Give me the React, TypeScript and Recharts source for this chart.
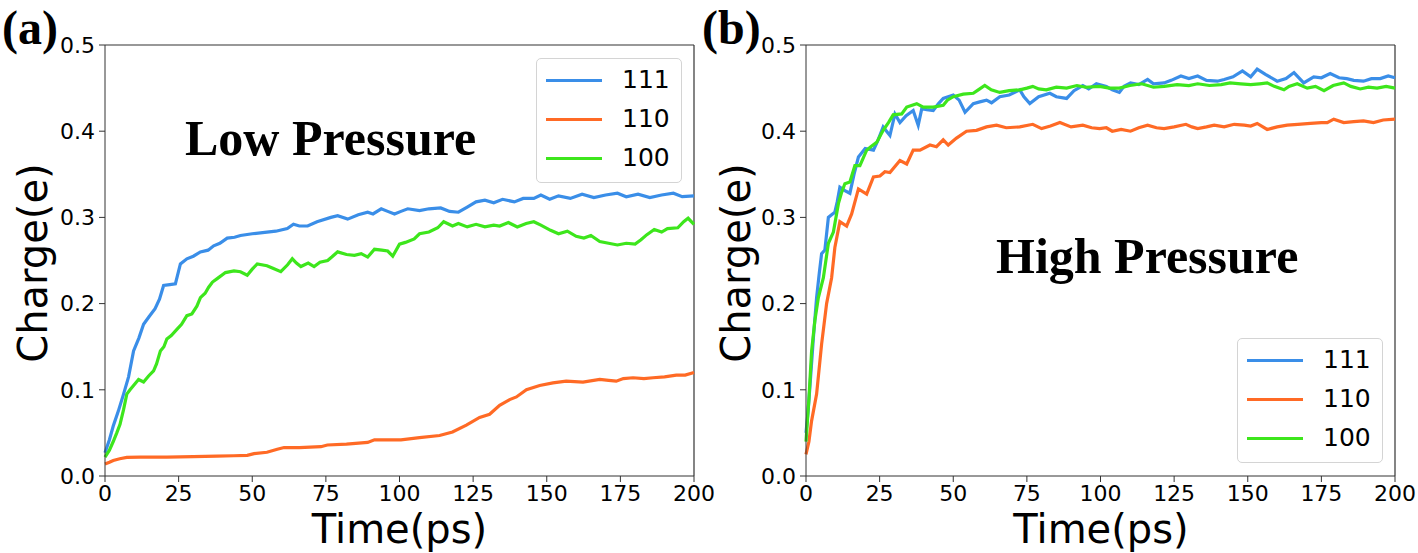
import { LineChart, Line, XAxis, YAxis, ReferenceLine } from 'recharts';

const BLUE = '#3A8EE8';
const ORANGE = '#FF6A25';
const GREEN = '#3DE61C';

const xTicks = [0, 25, 50, 75, 100, 125, 150, 175, 200];
const yTicks = [0, 0.1, 0.2, 0.3, 0.4, 0.5];
const facets = ['111', '110', '100'];

// low pressure, [time ps, charge e]
const low111: [number, number][] = [
  [0, 0.027], [1.5, 0.042], [2.8, 0.058], [4.5, 0.075], [6.3, 0.095], [8, 0.115], [9.7, 0.145], [11.5, 0.16],
  [13.1, 0.176], [15, 0.185], [17, 0.194], [18.5, 0.205], [19.9, 0.221], [22, 0.222], [23.9, 0.223], [25.6, 0.246],
  [27.8, 0.252], [30, 0.255], [32.4, 0.26], [35, 0.262], [36.9, 0.267], [39, 0.27], [41.5, 0.276], [44, 0.277],
  [46, 0.279], [50, 0.281], [55, 0.283], [58, 0.284], [61.9, 0.287], [64, 0.292], [66, 0.29], [68.8, 0.29],
  [72, 0.295], [76.7, 0.3], [79, 0.302], [82.4, 0.298], [86, 0.303], [89.2, 0.306], [91, 0.304], [93.8, 0.31],
  [96, 0.307], [98.3, 0.304], [100.5, 0.307], [102.8, 0.31], [106.8, 0.308], [110, 0.31], [114, 0.311], [117, 0.307],
  [120, 0.306], [123, 0.312], [126, 0.318], [129, 0.32], [132, 0.317], [135, 0.321], [139, 0.318], [142, 0.322],
  [145.6, 0.322], [148, 0.326], [151, 0.321], [154, 0.325], [158, 0.322], [162, 0.327], [166, 0.323], [170, 0.326],
  [174, 0.328], [177, 0.324], [181, 0.327], [185, 0.323], [189, 0.326], [193, 0.328], [196, 0.324], [200, 0.325],
];
const low110: [number, number][] = [
  [0, 0.014], [1.5, 0.016], [2.8, 0.018], [5, 0.02], [7.4, 0.0215], [12, 0.022], [21, 0.022], [30, 0.0225],
  [38, 0.023], [43.75, 0.0235], [48.3, 0.024], [50.6, 0.026], [55, 0.0275], [58.5, 0.031], [60.8, 0.033], [66, 0.033],
  [73.3, 0.034], [75.5, 0.036], [82, 0.037], [89.2, 0.039], [91.5, 0.042], [100.5, 0.042], [106.8, 0.0445], [113.6, 0.047],
  [118, 0.051], [122.7, 0.059], [127.2, 0.068], [130.6, 0.0716], [134, 0.082], [137.4, 0.0886], [139.7, 0.0917], [143.1, 0.1],
  [147.6, 0.105], [152.1, 0.108], [156.6, 0.11], [162.3, 0.109], [168, 0.112], [171, 0.111], [173.6, 0.11], [176, 0.113],
  [179.3, 0.114], [183, 0.113], [186.1, 0.114], [190, 0.115], [194, 0.117], [197, 0.117], [200, 0.12],
];
const low100: [number, number][] = [
  [0, 0.022], [1.5, 0.03], [2.8, 0.04], [4, 0.05], [5.1, 0.06], [6.3, 0.077], [7.4, 0.095], [8.5, 0.1],
  [9.7, 0.105], [11.4, 0.112], [13.1, 0.109], [14.8, 0.116], [16.5, 0.122], [17.5, 0.13], [18.8, 0.145], [20, 0.15],
  [21, 0.159], [22.5, 0.163], [24.4, 0.17], [26, 0.176], [27.8, 0.186], [29.5, 0.188], [31.2, 0.197], [32.4, 0.207],
  [34, 0.212], [35.2, 0.219], [36.5, 0.225], [38.1, 0.229], [40.9, 0.236], [43.8, 0.238], [46, 0.237], [48.3, 0.233],
  [50, 0.24], [51.7, 0.246], [55, 0.244], [57, 0.241], [59.7, 0.237], [62, 0.245], [63.6, 0.252], [65, 0.247],
  [66.5, 0.243], [69, 0.247], [71, 0.243], [73, 0.248], [75.6, 0.25], [77, 0.254], [79, 0.26], [82, 0.257],
  [84.7, 0.256], [87, 0.258], [89.2, 0.254], [91.5, 0.263], [94, 0.262], [96, 0.261], [97.7, 0.255], [100, 0.269],
  [102, 0.271], [105, 0.275], [106.8, 0.281], [110, 0.283], [113, 0.288], [115, 0.295], [118, 0.29], [120, 0.293],
  [123, 0.289], [126, 0.292], [129, 0.289], [132, 0.291], [134, 0.29], [137, 0.294], [140, 0.289], [143, 0.293],
  [145.6, 0.295], [148, 0.291], [151.3, 0.285], [154, 0.281], [157, 0.284], [160, 0.278], [162.6, 0.276], [165, 0.279],
  [168, 0.272], [171, 0.27], [174, 0.268], [177, 0.27], [180, 0.269], [182, 0.274], [184, 0.28], [186.5, 0.286],
  [189, 0.283], [191, 0.287], [194.5, 0.288], [196.5, 0.295], [198, 0.299], [200, 0.292],
];

// high pressure
const high111: [number, number][] = [
  [0, 0.05], [0.7, 0.075], [1.4, 0.107], [2.5, 0.16], [3.6, 0.207], [4.5, 0.235], [5.3, 0.258], [6.4, 0.262],
  [7.6, 0.3], [8.7, 0.303], [9.8, 0.306], [10.6, 0.318], [11.5, 0.335], [13.2, 0.331], [14.9, 0.328], [16.3, 0.35],
  [17.8, 0.37], [20.1, 0.38], [22.9, 0.378], [24.5, 0.39], [26.2, 0.405], [28.5, 0.395], [30.2, 0.42], [31.9, 0.41],
  [34, 0.418], [36.4, 0.424], [38.1, 0.407], [39.3, 0.426], [41, 0.425], [43.2, 0.424], [45, 0.432], [46.6, 0.438],
  [50, 0.442], [52, 0.436], [54, 0.422], [56.8, 0.432], [59, 0.434], [61.3, 0.436], [63, 0.433], [65.8, 0.44],
  [69, 0.442], [72.6, 0.448], [74, 0.44], [76, 0.432], [79, 0.44], [82.8, 0.444], [85, 0.44], [88.5, 0.438],
  [91, 0.447], [94, 0.453], [96, 0.449], [98.6, 0.455], [102, 0.452], [104, 0.448], [106.4, 0.445], [108, 0.452],
  [110.2, 0.456], [113, 0.454], [116, 0.46], [118, 0.455], [121.6, 0.456], [124, 0.459], [127.3, 0.464], [130, 0.461],
  [133, 0.464], [136, 0.459], [139.7, 0.458], [142, 0.46], [145, 0.463], [148.2, 0.47], [151, 0.463], [153.2, 0.472],
  [156, 0.466], [160, 0.458], [163, 0.461], [165.7, 0.468], [169, 0.456], [172.4, 0.463], [175, 0.462], [178, 0.467],
  [181, 0.462], [183.6, 0.461], [186, 0.459], [189.3, 0.458], [192, 0.461], [195, 0.461], [197.7, 0.464], [200, 0.462],
];
const high110: [number, number][] = [
  [0, 0.025], [1, 0.04], [1.9, 0.064], [3.6, 0.095], [5.3, 0.153], [7, 0.2], [8.7, 0.23], [9.8, 0.265],
  [11.5, 0.295], [13.8, 0.29], [15.5, 0.304], [17.8, 0.333], [20.6, 0.327], [22.9, 0.347], [25.1, 0.348], [26.8, 0.353],
  [28.5, 0.352], [31.9, 0.366], [34.2, 0.362], [36.4, 0.378], [38.7, 0.378], [42.1, 0.384], [44.3, 0.382], [46.6, 0.39],
  [48.3, 0.384], [51.1, 0.392], [54.5, 0.4], [57.9, 0.401], [61.3, 0.405], [64.7, 0.407], [68, 0.404], [72.6, 0.405],
  [77, 0.408], [80, 0.403], [83, 0.406], [86.2, 0.41], [90, 0.405], [94, 0.407], [97, 0.404], [99.7, 0.403],
  [102, 0.404], [104, 0.4], [107, 0.402], [110.2, 0.4], [113, 0.404], [116, 0.407], [119, 0.404], [121.6, 0.403],
  [125, 0.405], [129, 0.408], [131, 0.405], [133, 0.403], [136, 0.405], [138.6, 0.407], [142, 0.405], [145.4, 0.408],
  [148.8, 0.407], [151, 0.406], [153.2, 0.409], [156.6, 0.402], [160, 0.405], [163.4, 0.407], [167, 0.408], [171.3, 0.409],
  [175, 0.41], [177, 0.41], [179.2, 0.414], [182.6, 0.41], [186, 0.411], [189.3, 0.412], [192.7, 0.41], [196, 0.413],
  [200, 0.414],
];
const high100: [number, number][] = [
  [0, 0.04], [1, 0.09], [1.9, 0.145], [3, 0.18], [4.2, 0.207], [5.9, 0.23], [7.6, 0.27], [9.3, 0.283],
  [11, 0.316], [12, 0.328], [13.2, 0.339], [14.9, 0.341], [16.6, 0.36], [18.3, 0.36], [20.6, 0.378], [22, 0.382],
  [24, 0.387], [26.2, 0.401], [28, 0.41], [29.6, 0.419], [32.5, 0.42], [34.2, 0.428], [37.6, 0.432], [39.8, 0.428],
  [43.2, 0.428], [46.6, 0.43], [48, 0.436], [50, 0.44], [53.4, 0.443], [56.8, 0.444], [58.5, 0.448], [60.7, 0.453],
  [62.9, 0.448], [65.8, 0.445], [69, 0.447], [72.6, 0.448], [75, 0.45], [77, 0.452], [79, 0.449], [81.6, 0.448],
  [85, 0.451], [88.5, 0.45], [92, 0.453], [95, 0.451], [99.7, 0.452], [103, 0.45], [106.4, 0.45], [110, 0.453],
  [114, 0.455], [118, 0.451], [121.6, 0.452], [126, 0.454], [130, 0.453], [133, 0.455], [137, 0.453], [141, 0.454],
  [144, 0.456], [147.6, 0.455], [151, 0.454], [154, 0.455], [156.6, 0.456], [159, 0.452], [162.3, 0.448], [164, 0.452],
  [166.8, 0.455], [170.2, 0.45], [173, 0.452], [175.9, 0.447], [179, 0.453], [182.6, 0.456], [185, 0.452], [188.2, 0.449],
  [191, 0.451], [193.9, 0.45], [197, 0.452], [200, 0.45],
];

const COLORS = [BLUE, ORANGE, GREEN];
const toRows = (pts: [number, number][]) => pts.map(([t, v]) => ({ t, v }));

const tickStyle = { fill: '#000', fontSize: 22, fontFamily: 'DejaVu Sans' };
const serif = 'Liberation Serif, Times New Roman, serif';
const sans = 'DejaVu Sans, sans-serif';

function Panel({ left, series }: { left: number; series: [number, number][][] }) {
  // extra right margin so the "200" tick label is not clipped
  return (
    <div style={{ position: 'absolute', left, top: 0 }}>
      <LineChart width={730} height={553} margin={{ top: 45, right: 36, bottom: 0, left: 0 }}>
        <XAxis dataKey="t" type="number" domain={[0, 200]} ticks={xTicks} allowDuplicatedCategory={false}
          height={77} tick={tickStyle} tickSize={6} tickMargin={3} stroke="#333" interval={0} />
        <YAxis type="number" domain={[0, 0.5]} ticks={yTicks} width={105} tick={tickStyle} tickSize={6}
          tickMargin={4} stroke="#333" tickFormatter={(v: number) => v.toFixed(1)} interval={0} />
        <ReferenceLine y={0.5} stroke="#333" strokeWidth={1.2} />
        <ReferenceLine x={200} stroke="#333" strokeWidth={1.2} />
        {series.map((pts, i) => (
          <Line key={facets[i]} data={toRows(pts)} dataKey="v" name={facets[i]} type="linear" stroke={COLORS[i]}
            strokeWidth={3.2} dot={false} isAnimationActive={false} />
        ))}
      </LineChart>
    </div>
  );
}

function LegendBox({ left, top }: { left: number; top: number }) {
  return (
    <div style={{
      position: 'absolute', left, top, width: 146, height: 125, boxSizing: 'border-box',
      border: '1px solid #d4d4d4', borderRadius: 5, background: 'rgba(255,255,255,0.85)',
    }}>
      {facets.map((f, i) => (
        <div key={f} style={{ position: 'absolute', left: 0, top: 21 + i * 39 - 15, height: 30, width: 146 }}>
          <div style={{ position: 'absolute', left: 9, top: 13.5, width: 56, height: 3, background: COLORS[i] }} />
          <div style={{ position: 'absolute', left: 85, top: 0, lineHeight: '30px', fontSize: 25, fontFamily: sans, color: '#000' }}>{f}</div>
        </div>
      ))}
    </div>
  );
}

export default function App() {
  return (
    <div style={{ position: 'absolute', left: 0, top: 0, width: 1418, height: 553, background: '#fff', overflow: 'hidden' }}>
      <Panel left={0} series={[low111, low110, low100]} />
      <Panel left={701} series={[high111, high110, high100]} />
      <LegendBox left={536} top={58} />
      <LegendBox left={1237} top={338} />
      <svg width={1418} height={553} style={{ position: 'absolute', left: 0, top: 0, pointerEvents: 'none' }}>
        <text x={2} y={44} fontFamily={serif} fontWeight="bold" fontSize={48}>(a)</text>
        <text x={702} y={44} fontFamily={serif} fontWeight="bold" fontSize={48}>(b)</text>
        <text x={185} y={155} fontFamily={serif} fontWeight="bold" fontSize={50}>Low Pressure</text>
        <text x={996} y={273} fontFamily={serif} fontWeight="bold" fontSize={50}>High Pressure</text>
        <text x={399.5} y={543} textAnchor="middle" fontFamily={sans} fontSize={40}>Time(ps)</text>
        <text x={1101} y={543} textAnchor="middle" fontFamily={sans} fontSize={40}>Time(ps)</text>
        <text x={47} y={263} textAnchor="middle" fontFamily={sans} fontSize={40} transform="rotate(-90 47 263)">Charge(e)</text>
        <text x={750} y={263} textAnchor="middle" fontFamily={sans} fontSize={40} transform="rotate(-90 750 263)">Charge(e)</text>
      </svg>
    </div>
  );
}
